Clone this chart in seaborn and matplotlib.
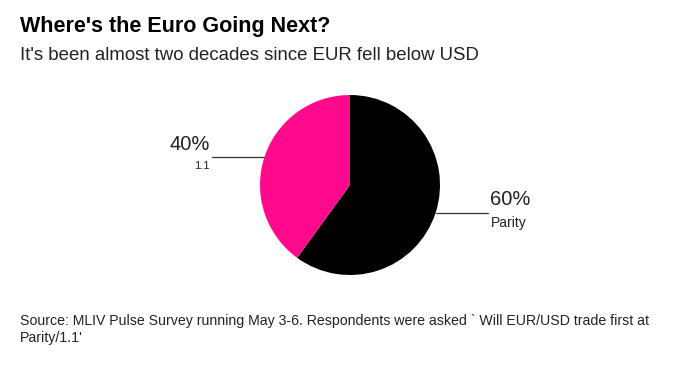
import numpy as np
import matplotlib.pyplot as plt
import seaborn as sns

# survey result shares
answers = ['Parity', '1.1']
shares = [60, 40]
colors = ['#000000', '#ff0a8c']

sns.set_theme(style='white')
plt.rcParams['font.family'] = ['Liberation Sans', 'DejaVu Sans']

fig = plt.figure(figsize=(7, 3.7), dpi=100)
fig.patch.set_facecolor('white')

fig.text(20 / 700, 1 - 32 / 370, "Where's the Euro Going Next?", fontsize=15.5,
         fontweight='bold', color='#000000', ha='left', va='baseline')
fig.text(20 / 700, 1 - 60 / 370, "It's been almost two decades since EUR fell below USD",
         fontsize=13.4, color='#222222', ha='left', va='baseline')

ax = fig.add_axes([(350 - 90) / 700, (185 - 90) / 370, 180 / 700, 180 / 370])
wedges, _ = ax.pie(shares, colors=colors, startangle=90, counterclock=False,
                   wedgeprops=dict(linewidth=0))
ax.set_aspect('equal')
ax.set_xlim(-1, 1)
ax.set_ylim(-1, 1)
ax.axis('off')

# leader lines and labels
for w, ans, pct in zip(wedges, answers, shares):
    mid = np.deg2rad((w.theta1 + w.theta2) / 2)
    x, y = np.cos(mid), np.sin(mid)
    side = np.sign(x)
    x_end = x + side * 0.58
    ax.plot([x, x_end], [y, y], color='#333333', lw=0.9, clip_on=False)
    ha = 'left' if side > 0 else 'right'
    tx = x_end + side * 0.03
    ax.text(tx, y + 0.04, f'{pct}%', fontsize=14.5, color='#222222',
            ha=ha, va='bottom')
    ax.text(tx, y - 0.04, ans, fontsize=10 if side > 0 else 8,
            color='#222222', ha=ha, va='top')

fig.text(20 / 700, 1 - 325 / 370,
         "Source: MLIV Pulse Survey running May 3-6. Respondents were asked ` Will EUR/USD trade first at",
         fontsize=10.2, color='#222222', ha='left', va='baseline')
fig.text(20 / 700, 1 - 342 / 370, "Parity/1.1'",
         fontsize=10.2, color='#222222', ha='left', va='baseline')

fig.savefig('out.png', dpi=100, facecolor='white')
